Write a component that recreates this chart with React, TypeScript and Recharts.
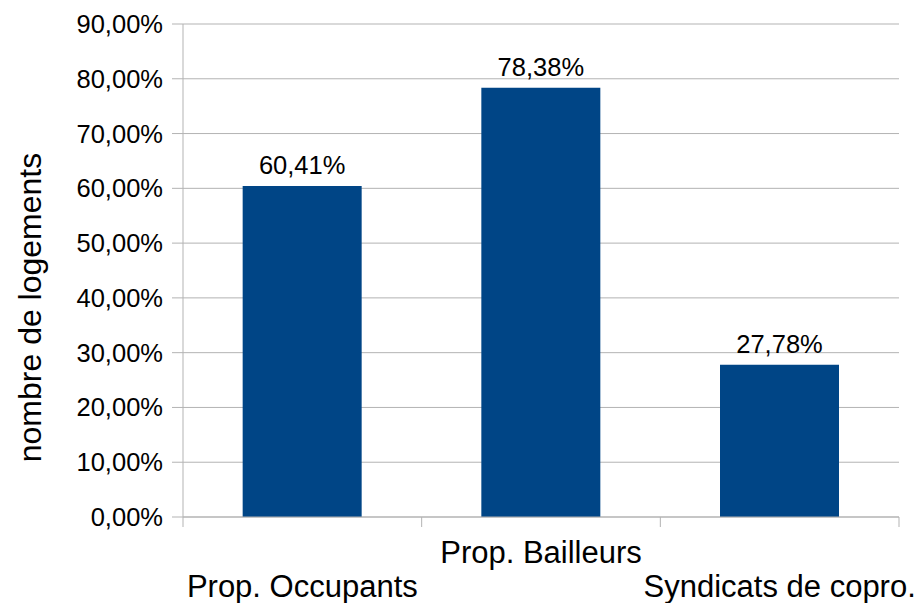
import React from 'react';
import { BarChart, Bar, XAxis, YAxis, CartesianGrid, LabelList, Label } from 'recharts';

const categories = ['Prop. Occupants', 'Prop. Bailleurs', 'Syndicats de copro.'];
const values = [60.41, 78.38, 27.78];
const yTicks = [0, 10, 20, 30, 40, 50, 60, 70, 80, 90];
const yTitle = 'nombre de logements';

const data = categories.map((c, i) => ({ name: c, value: values[i] }));

const fmt = (v: number) => v.toFixed(2).replace('.', ',') + '%';

const GRID = '#b3b3b3';
const BAR = '#004586';
const FONT = '"Liberation Sans", Arial, sans-serif';

const CategoryTick = (props: any) => {
  const { x, y, payload, index, width, visibleTicksCount } = props;
  const count = visibleTicksCount || categories.length;
  const half =
    payload && typeof payload.offset === 'number' && payload.offset > 0
      ? payload.offset
      : width / count / 2;
  const dy = index % 2 === 1 ? 46 : 80;
  return (
    <g>
      <line x1={x - half} y1={y} x2={x - half} y2={y + 10} stroke={GRID} />
      {index === count - 1 && <line x1={x + half} y1={y} x2={x + half} y2={y + 10} stroke={GRID} />}
      <text x={x} y={y} dy={dy} textAnchor="middle" fill="#000" fontSize={31} fontFamily={FONT}>
        {payload.value}
      </text>
    </g>
  );
};

const TitleLabel = (props: any) => {
  const vb = props.viewBox || {};
  const cx = vb.x + 30;
  const cy = vb.y + vb.height / 2 + 37;
  return (
    <text
      x={cx}
      y={cy}
      transform={`rotate(-90, ${cx}, ${cy})`}
      textAnchor="middle"
      dominantBaseline="central"
      fill="#000"
      fontSize={32}
      fontFamily={FONT}
    >
      {yTitle}
    </text>
  );
};

export default function App() {
  return (
    <div style={{ position: 'absolute', left: 0, top: 0, width: 919, height: 603, background: '#fff' }}>
      <BarChart
        width={919}
        height={603}
        data={data}
        margin={{ top: 24, right: 20, bottom: 0, left: 0 }}
        barCategoryGap="25%"
        style={{ fontFamily: FONT }}
      >
        <CartesianGrid vertical={false} stroke={GRID} strokeWidth={1} />
        <XAxis
          dataKey="name"
          height={86}
          axisLine={{ stroke: GRID }}
          tickLine={false}
          tickSize={0}
          tickMargin={0}
          interval={0}
          tick={<CategoryTick />}
        />
        <YAxis
          domain={[0, 90]}
          ticks={yTicks}
          tickFormatter={fmt}
          width={183}
          tickSize={11}
          tickMargin={9}
          axisLine={{ stroke: GRID }}
          tickLine={{ stroke: GRID }}
          tick={{ fill: '#000', fontSize: 25.5, fontFamily: FONT }}
          interval={0}
        >
          <Label content={<TitleLabel />} />
        </YAxis>
        <YAxis
          yAxisId="r"
          orientation="right"
          width={0}
          tick={false}
          tickLine={false}
          axisLine={{ stroke: GRID }}
        />
        <Bar dataKey="value" fill={BAR} isAnimationActive={false}>
          <LabelList
            dataKey="value"
            position="top"
            offset={12}
            formatter={(v: any) => fmt(Number(v))}
            style={{ fill: '#000', fontSize: 25.5, fontFamily: FONT }}
          />
        </Bar>
      </BarChart>
    </div>
  );
}
